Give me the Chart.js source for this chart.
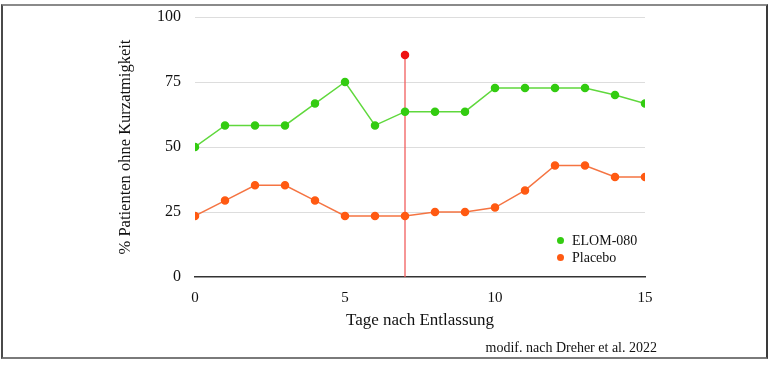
<!DOCTYPE html>
<html>
<head>
<meta charset="utf-8">
<script src="https://cdn.jsdelivr.net/npm/chart.js@4/dist/chart.umd.min.js"></script>
<style>
  html, body { margin: 0; padding: 0; background: #fff; }
  #wrap { position: relative; width: 770px; height: 366px; overflow: hidden; font-family: 'Liberation Serif', serif; }
  #frame { position: absolute; left: 1px; top: 4px; width: 763px; height: 351px;
           border-left: 2px solid #4a4a4a; border-right: 2px solid #3a3a3a;
           border-top: 2px solid #8a8a8a; border-bottom: 2px solid #7a7a7a; }
  canvas { position: absolute; left: 0; top: 0; }
  #legend { position: absolute; left: 557px; top: 232px; font-size: 14px; color: #111; line-height: 17px; }
  #legend .row { display: flex; align-items: center; white-space: nowrap; }
  #legend .dot { width: 7px; height: 7px; border-radius: 50%; margin-right: 8px; }
  #footer { position: absolute; right: 113px; top: 340px; font-size: 14px; color: #111; white-space: nowrap; }
</style>
</head>
<body>
<div id="wrap">
  <div id="frame"></div>
  <canvas id="c" width="770" height="366"></canvas>
  <div id="legend"></div>
  <div id="footer">modif. nach Dreher et al. 2022</div>
</div>
<script>
// ---- data ----
const days = [0,1,2,3,4,5,6,7,8,9,10,11,12,13,14,15];
const elomValues = [50,58.3,58.3,58.3,66.7,75,58.3,63.6,63.6,63.6,72.7,72.7,72.7,72.7,70,66.7];
const placeboValues = [23.5,29.4,35.3,35.3,29.4,23.5,23.5,23.5,25,25,26.7,33.3,42.9,42.9,38.5,38.5];
const markerX = [7,7];
const markerY = [0,85.4];
const seriesNames = ['ELOM-080','Placebo'];
const xTicks = [0,5,10,15];
const yTicks = [0,25,50,75,100];
const xTitle = 'Tage nach Entlassung';
const yTitle = '% Patienten ohne Kurzatmigkeit';

const green = '#33cc11';
const greenLine = '#5fd83c';
const orange = '#ff5a12';
const orangeLine = '#f57442';

const toXY = (xs, ys) => xs.map((x, i) => ({x: x, y: ys[i]}));

// legend (HTML)
const legendEl = document.getElementById('legend');
[[seriesNames[0], green], [seriesNames[1], orange]].forEach(([n, c]) => {
  const r = document.createElement('div'); r.className = 'row';
  const d = document.createElement('span'); d.className = 'dot'; d.style.background = c;
  const t = document.createElement('span'); t.textContent = n;
  r.appendChild(d); r.appendChild(t); legendEl.appendChild(r);
});

const fam = "'Liberation Serif', serif";

new Chart(document.getElementById('c'), {
  type: 'line',
  data: {
    datasets: [
      { label: seriesNames[0], data: toXY(days, elomValues), borderColor: greenLine, backgroundColor: green,
        pointBackgroundColor: green, pointBorderColor: green, pointRadius: 3.5, borderWidth: 1.5, tension: 0 },
      { label: seriesNames[1], data: toXY(days, placeboValues), borderColor: orangeLine, backgroundColor: orange,
        pointBackgroundColor: orange, pointBorderColor: orange, pointRadius: 3.5, borderWidth: 1.5, tension: 0 },
      { label: 'marker', data: toXY(markerX, markerY), borderColor: 'rgba(240,90,90,0.85)',
        pointBackgroundColor: '#ee1111', pointBorderColor: '#ee1111', pointRadius: [0, 3.5], borderWidth: 1.5 }
    ]
  },
  options: {
    responsive: false,
    animation: false,
    events: [],
    layout: { padding: { left: 0, right: 125, top: 17, bottom: 0 } },
    plugins: { legend: { display: false }, tooltip: { enabled: false } },
    scales: {
      x: {
        type: 'linear', min: 0, max: 15,
        afterBuildTicks: s => { s.ticks = xTicks.map(v => ({value: v})); },
        afterFit: s => { s.height = 89; s.paddingLeft = 0; s.paddingRight = 0; },
        grid: { display: false, drawTicks: false },
        border: { display: true, color: '#333', width: 1.5 },
        ticks: { color: '#111', font: {family: fam, size: 15}, padding: 12, maxRotation: 0 },
        title: { display: true, text: xTitle, color: '#111', font: {family: fam, size: 17}, padding: {top: 0, bottom: 35} }
      },
      y: {
        min: 0, max: 100,
        afterBuildTicks: s => { s.ticks = yTicks.map(v => ({value: v})); },
        afterFit: s => { s.width = 195; s.paddingTop = 0; s.paddingBottom = 0; },
        grid: { color: ctx => ctx.tick && ctx.tick.value === 0 ? 'rgba(0,0,0,0)' : '#dddddd', lineWidth: 1, drawTicks: false },
        border: { display: false },
        ticks: { color: '#111', font: {family: fam, size: 16}, padding: 14 },
        title: { display: true, text: yTitle, color: '#111', font: {family: fam, size: 16.5}, padding: {top: 116, bottom: 0} }
      }
    }
  }
});
</script>
</body>
</html>
